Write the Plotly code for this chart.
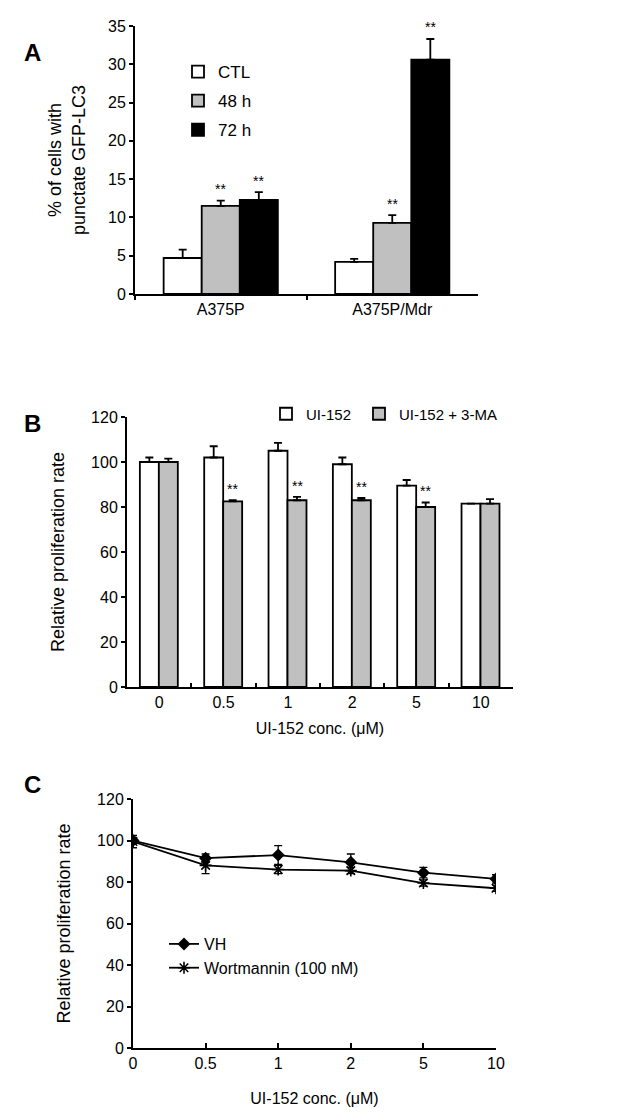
import plotly.graph_objects as go

W, H = 644, 1118
FONT = "Liberation Sans, Arial, sans-serif"

# ---------------- Panel A data ----------------
a_groups = ["A375P", "A375P/Mdr"]
a_names = ["CTL", "48 h", "72 h"]
a_ctl = [4.7, 4.2]
a_48 = [11.5, 9.3]
a_72 = [12.3, 30.6]
a_ctl_err = [1.1, 0.4]
a_48_err = [0.7, 1.0]
a_72_err = [1.0, 2.7]
a_sig_48 = ["**", "**"]
a_sig_72 = ["**", "**"]

# ---------------- Panel B data ----------------
b_conc = ["0", "0.5", "1", "2", "5", "10"]
b_names = ["UI-152", "UI-152 + 3-MA"]
b_ui = [100, 102, 105, 99, 89.5, 81.5]
b_ui_err = [2, 5, 3.5, 3, 2.5, 0]
b_ma = [100, 82.5, 83, 83, 80, 81.5]
b_ma_err = [1.5, 0.5, 1.5, 1, 2, 2]
b_sig = ["", "**", "**", "**", "**", ""]

# ---------------- Panel C data ----------------
c_conc = ["0", "0.5", "1", "2", "5", "10"]
c_names = ["VH", "Wortmannin (100 nM)"]
c_vh = [100, 91.5, 93, 89.5, 84.5, 81.5]
c_vh_err = [1.5, 2, 4.5, 4, 2.5, 2]
c_wm = [99.5, 88, 86, 85.5, 79.5, 77]
c_wm_err = [3, 4, 2, 1.5, 1.5, 1.5]


def dx(a, b):
    return [a / W, b / W]


def dy(bottom, top):
    return [1 - bottom / H, 1 - top / H]


fig = go.Figure()

# ---- Panel A bars ----
a_width = 0.222
a_offsets = [-0.333, -0.111, 0.111]
a_colors = ["white", "#c0c0c0", "black"]
for name, vals, errs, off, col in zip(a_names, [a_ctl, a_48, a_72],
                                      [a_ctl_err, a_48_err, a_72_err],
                                      a_offsets, a_colors):
    fig.add_trace(go.Bar(
        x=a_groups, y=vals, name=name, width=a_width, offset=off,
        marker=dict(color=col, line=dict(color="black", width=1.8)),
        error_y=dict(type="data", array=errs, arrayminus=[0] * len(errs),
                     symmetric=False, color="black", thickness=1.8, width=4),
        xaxis="x", yaxis="y", legend="legend", legendgroup=name,
    ))

for sig, vals, errs, off in [(a_sig_48, a_48, a_48_err, a_offsets[1]),
                             (a_sig_72, a_72, a_72_err, a_offsets[2])]:
    for i, s in enumerate(sig):
        if s:
            fig.add_annotation(x=i + off + a_width / 2, y=vals[i] + errs[i] + 0.2,
                               text=s, showarrow=False, xref="x", yref="y",
                               yanchor="bottom", font=dict(size=14, color="black"))

# ---- Panel B bars ----
b_width = 0.295
b_offsets = [-0.3, -0.005]
b_colors = ["white", "#c0c0c0"]
b_legends = ["legend2", "legend4"]
for name, vals, errs, off, col, lg in zip(b_names, [b_ui, b_ma], [b_ui_err, b_ma_err],
                                          b_offsets, b_colors, b_legends):
    fig.add_trace(go.Bar(
        x=b_conc, y=vals, name=name, width=b_width, offset=off,
        marker=dict(color=col, line=dict(color="black", width=1.8)),
        error_y=dict(type="data", array=errs, arrayminus=[0] * len(errs),
                     symmetric=False, color="black", thickness=1.8, width=4),
        xaxis="x2", yaxis="y2", legend=lg,
    ))
for i, s in enumerate(b_sig):
    if s:
        fig.add_annotation(x=i + b_offsets[1] + b_width / 2, y=b_ma[i] + b_ma_err[i] + 0.5,
                           text=s, showarrow=False, xref="x2", yref="y2",
                           yanchor="bottom", font=dict(size=14, color="black"))

# ---- Panel C lines ----
fig.add_trace(go.Scatter(
    x=c_conc, y=c_vh, name=c_names[0], mode="lines+markers",
    line=dict(color="black", width=1.8),
    marker=dict(symbol="diamond", size=10, color="black"),
    error_y=dict(type="data", array=c_vh_err, color="black", thickness=1.3, width=4),
    xaxis="x3", yaxis="y3", legend="legend3",
))
fig.add_trace(go.Scatter(
    x=c_conc, y=c_wm, name=c_names[1], mode="lines+markers",
    line=dict(color="black", width=1.8),
    marker=dict(symbol="asterisk-open", size=10, color="black",
                line=dict(color="black", width=1.6)),
    error_y=dict(type="data", array=c_wm_err, color="black", thickness=1.3, width=4),
    xaxis="x3", yaxis="y3", legend="legend3",
))

axis_common = dict(showline=True, linecolor="black", linewidth=2, showgrid=False,
                   zeroline=False, tickcolor="black", tickwidth=1.5,
                   tickfont=dict(size=16, color="black"), automargin=False)

fig.update_layout(
    width=W, height=H,
    margin=dict(l=0, r=0, t=0, b=0),
    paper_bgcolor="white", plot_bgcolor="white",
    font=dict(family=FONT, color="black"),
    barmode="overlay",
    xaxis=dict(**axis_common, domain=dx(127, 470), anchor="y", type="category",
               range=[-0.5, 1.5], ticks="outside", ticklen=4, tickson="boundaries"),
    yaxis=dict(**axis_common, domain=dy(286, 18), anchor="x", range=[0, 35],
               dtick=5, ticks="outside", ticklen=4,
               title=dict(text="% of cells with<br>punctate GFP-LC3",
                          font=dict(size=18), standoff=18)),
    xaxis2=dict(**axis_common, domain=dx(119, 505), anchor="y2", type="category",
                range=[-0.5, 5.5], ticks="inside", ticklen=4, tickson="boundaries",
                title=dict(text="UI-152 conc. (μM)", font=dict(size=16), standoff=13)),
    yaxis2=dict(**axis_common, domain=dy(679, 409), anchor="x2", range=[0, 120],
                dtick=20, ticks="outside", ticklen=4,
                title=dict(text="Relative proliferation rate", font=dict(size=18), standoff=22)),
    xaxis3=dict(**axis_common, domain=dx(125, 488), anchor="y3", type="category",
                range=[0, 5], ticks="inside", ticklen=5,
                title=dict(text="UI-152 conc. (μM)", font=dict(size=16), standoff=22)),
    yaxis3=dict(**axis_common, domain=dy(1040, 791), anchor="x3", range=[0, 120],
                dtick=20, ticks="outside", ticklen=4,
                title=dict(text="Relative proliferation rate", font=dict(size=18), standoff=22)),
    legend=dict(x=170 / W, y=1 - 46 / H, xanchor="left", yanchor="top",
                font=dict(size=17), bgcolor="rgba(0,0,0,0)", traceorder="grouped",
                tracegroupgap=4),
    legend2=dict(x=258 / W, y=1 - 406 / H, xanchor="left", yanchor="middle",
                 font=dict(size=15), bgcolor="rgba(0,0,0,0)"),
    legend4=dict(x=351 / W, y=1 - 406 / H, xanchor="left", yanchor="middle",
                 font=dict(size=15), bgcolor="rgba(0,0,0,0)"),
    legend3=dict(x=156 / W, y=1 - 919 / H, xanchor="left", yanchor="top",
                 font=dict(size=16), bgcolor="rgba(0,0,0,0)"),
    showlegend=True,
)

for label, yp in [("A", 45), ("B", 415), ("C", 777)]:
    fig.add_annotation(x=25 / W, y=1 - yp / H, xref="paper", yref="paper",
                       text=f"<b>{label}</b>", showarrow=False,
                       font=dict(size=24, color="black"), xanchor="center", yanchor="middle")

fig.write_html("out.html")
